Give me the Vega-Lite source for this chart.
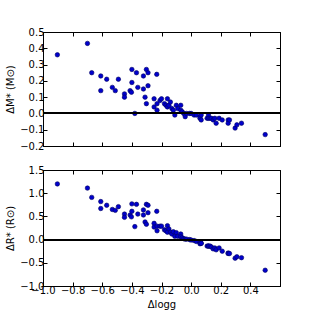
{
  "$schema": "https://vega.github.io/schema/vega-lite/v6.json",
  "padding": {"top": 26, "left": 5, "right": 5, "bottom": 5},
  "background": "white",
  "config": {
    "view": {"stroke": "black", "strokeWidth": 1},
    "font": "DejaVu Sans",
    "axis": {
      "grid": false, "domainColor": "black", "tickColor": "black", "tickSize": -4,
      "labelFontSize": 10, "titleFontSize": 10, "labelColor": "black", "titleColor": "black",
      "titleFontWeight": "normal", "labelPadding": 3, "labelFont": "DejaVu Sans", "titleFont": "DejaVu Sans",
      "labelOverlap": false, "labelFlush": false
    },
    "concat": {"spacing": 12}
  },
  "datasets": {
    "stars": [
      {"dlogg": -0.903, "dM": 0.36, "dR": 1.20},
      {"dlogg": -0.70, "dM": 0.43, "dR": 1.11},
      {"dlogg": -0.671, "dM": 0.25, "dR": 0.91},
      {"dlogg": -0.61, "dM": 0.23, "dR": 0.82},
      {"dlogg": -0.61, "dM": 0.14, "dR": 0.67},
      {"dlogg": -0.57, "dM": 0.21, "dR": 0.74},
      {"dlogg": -0.532, "dM": 0.16, "dR": 0.65},
      {"dlogg": -0.512, "dM": 0.14, "dR": 0.63},
      {"dlogg": -0.491, "dM": 0.21, "dR": 0.71},
      {"dlogg": -0.45, "dM": 0.12, "dR": 0.55},
      {"dlogg": -0.45, "dM": 0.10, "dR": 0.48},
      {"dlogg": -0.412, "dM": 0.14, "dR": 0.53},
      {"dlogg": -0.403, "dM": 0.13, "dR": 0.49},
      {"dlogg": -0.40, "dM": 0.27, "dR": 0.77},
      {"dlogg": -0.40, "dM": 0.19, "dR": 0.61},
      {"dlogg": -0.38, "dM": 0.00, "dR": 0.28},
      {"dlogg": -0.369, "dM": 0.25, "dR": 0.76},
      {"dlogg": -0.36, "dM": 0.16, "dR": 0.55},
      {"dlogg": -0.322, "dM": 0.23, "dR": 0.64},
      {"dlogg": -0.322, "dM": 0.15, "dR": 0.53},
      {"dlogg": -0.311, "dM": 0.10, "dR": 0.38},
      {"dlogg": -0.302, "dM": 0.27, "dR": 0.76},
      {"dlogg": -0.302, "dM": 0.06, "dR": 0.33},
      {"dlogg": -0.291, "dM": 0.25, "dR": 0.74},
      {"dlogg": -0.291, "dM": 0.17, "dR": 0.58},
      {"dlogg": -0.232, "dM": 0.24, "dR": 0.61},
      {"dlogg": -0.25, "dM": 0.09, "dR": 0.35},
      {"dlogg": -0.25, "dM": 0.04, "dR": 0.27},
      {"dlogg": -0.23, "dM": 0.06, "dR": 0.29},
      {"dlogg": -0.23, "dM": 0.02, "dR": 0.19},
      {"dlogg": -0.21, "dM": 0.08, "dR": 0.29},
      {"dlogg": -0.20, "dM": 0.09, "dR": 0.29},
      {"dlogg": -0.18, "dM": 0.06, "dR": 0.21},
      {"dlogg": -0.17, "dM": 0.05, "dR": 0.19},
      {"dlogg": -0.16, "dM": 0.09, "dR": 0.30},
      {"dlogg": -0.16, "dM": 0.04, "dR": 0.16},
      {"dlogg": -0.15, "dM": 0.05, "dR": 0.23},
      {"dlogg": -0.14, "dM": 0.07, "dR": 0.16},
      {"dlogg": -0.13, "dM": 0.03, "dR": 0.12},
      {"dlogg": -0.12, "dM": 0.02, "dR": 0.17},
      {"dlogg": -0.11, "dM": -0.01, "dR": 0.07},
      {"dlogg": -0.10, "dM": 0.05, "dR": 0.15},
      {"dlogg": -0.09, "dM": 0.03, "dR": 0.07},
      {"dlogg": -0.07, "dM": 0.05, "dR": 0.12},
      {"dlogg": -0.07, "dM": 0.02, "dR": 0.06},
      {"dlogg": -0.06, "dM": 0.01, "dR": 0.04},
      {"dlogg": -0.05, "dM": 0.00, "dR": 0.02},
      {"dlogg": -0.04, "dM": -0.02, "dR": 0.01},
      {"dlogg": -0.03, "dM": 0.00, "dR": 0.01},
      {"dlogg": -0.01, "dM": 0.00, "dR": 0.00},
      {"dlogg": 0.00, "dM": 0.00, "dR": -0.01},
      {"dlogg": 0.02, "dM": -0.01, "dR": -0.02},
      {"dlogg": 0.035, "dM": -0.01, "dR": -0.04},
      {"dlogg": 0.06, "dM": -0.02, "dR": -0.07},
      {"dlogg": 0.06, "dM": -0.03, "dR": -0.09},
      {"dlogg": 0.068, "dM": -0.04, "dR": -0.08},
      {"dlogg": 0.068, "dM": -0.01, "dR": -0.08},
      {"dlogg": 0.108, "dM": -0.03, "dR": -0.14},
      {"dlogg": 0.117, "dM": -0.01, "dR": -0.14},
      {"dlogg": 0.117, "dM": -0.03, "dR": -0.14},
      {"dlogg": 0.128, "dM": -0.03, "dR": -0.14},
      {"dlogg": 0.137, "dM": -0.03, "dR": -0.16},
      {"dlogg": 0.149, "dM": -0.04, "dR": -0.20},
      {"dlogg": 0.16, "dM": -0.03, "dR": -0.18},
      {"dlogg": 0.169, "dM": -0.06, "dR": -0.22},
      {"dlogg": 0.189, "dM": -0.03, "dR": -0.18},
      {"dlogg": 0.21, "dM": -0.04, "dR": -0.25},
      {"dlogg": 0.25, "dM": -0.04, "dR": -0.29},
      {"dlogg": 0.25, "dM": -0.06, "dR": -0.30},
      {"dlogg": 0.259, "dM": -0.04, "dR": -0.30},
      {"dlogg": 0.297, "dM": -0.09, "dR": -0.40},
      {"dlogg": 0.309, "dM": -0.07, "dR": -0.37},
      {"dlogg": 0.34, "dM": -0.06, "dR": -0.39},
      {"dlogg": 0.50, "dM": -0.13, "dR": -0.66}
    ]
  },
  "vconcat": [
    {
      "width": 237, "height": 114,
      "data": {"name": "stars"},
      "resolve": {"scale": {"x": "independent", "y": "independent"}},
      "layer": [
        {
          "mark": {"type": "circle", "size": 20, "color": "#0000cc", "opacity": 1, "stroke": "#000060", "strokeWidth": 0.6},
          "encoding": {
            "x": {"field": "dlogg", "type": "quantitative", "scale": {"domain": [-1.0, 0.6], "nice": false},
                  "axis": {"values": [-1.0, -0.8, -0.6, -0.4, -0.2, 0.0, 0.2, 0.4], "labels": false, "title": null}},
            "y": {"field": "dM", "type": "quantitative", "scale": {"domain": [-0.2, 0.5], "nice": false},
                  "axis": {"tickCount": 8, "format": ".1f", "title": "ΔM* (M⊙)"}}
          }
        },
        {
          "mark": {"type": "rule", "color": "black", "strokeWidth": 1},
          "encoding": {"y": {"datum": 0, "type": "quantitative", "scale": {"domain": [-0.2, 0.5], "nice": false}, "axis": null}}
        },
        {
          "mark": {"type": "circle", "size": 20, "opacity": 0},
          "encoding": {
            "x": {"field": "dlogg", "type": "quantitative", "scale": {"domain": [-1.0, 0.6], "nice": false},
                  "axis": {"orient": "top", "values": [-1.0, -0.8, -0.6, -0.4, -0.2, 0.0, 0.2, 0.4], "labels": false, "title": null}},
            "y": {"field": "dM", "type": "quantitative", "scale": {"domain": [-0.2, 0.5], "nice": false},
                  "axis": {"orient": "right", "tickCount": 8, "labels": false, "title": null}}
          }
        }
      ]
    },
    {
      "width": 237, "height": 116,
      "data": {"name": "stars"},
      "resolve": {"scale": {"x": "independent", "y": "independent"}},
      "layer": [
        {
          "mark": {"type": "circle", "size": 20, "color": "#0000cc", "opacity": 1, "stroke": "#000060", "strokeWidth": 0.6},
          "encoding": {
            "x": {"field": "dlogg", "type": "quantitative", "scale": {"domain": [-1.0, 0.6], "nice": false},
                  "axis": {"values": [-1.0, -0.8, -0.6, -0.4, -0.2, 0.0, 0.2, 0.4], "format": ".1f", "title": "Δlogg"}},
            "y": {"field": "dR", "type": "quantitative", "scale": {"domain": [-1.0, 1.5], "nice": false},
                  "axis": {"tickCount": 5, "format": ".1f", "title": "ΔR* (R⊙)"}}
          }
        },
        {
          "mark": {"type": "rule", "color": "black", "strokeWidth": 1},
          "encoding": {"y": {"datum": 0, "type": "quantitative", "scale": {"domain": [-1.0, 1.5], "nice": false}, "axis": null}}
        },
        {
          "mark": {"type": "circle", "size": 20, "opacity": 0},
          "encoding": {
            "x": {"field": "dlogg", "type": "quantitative", "scale": {"domain": [-1.0, 0.6], "nice": false},
                  "axis": {"orient": "top", "values": [-1.0, -0.8, -0.6, -0.4, -0.2, 0.0, 0.2, 0.4], "labels": false, "title": null}},
            "y": {"field": "dR", "type": "quantitative", "scale": {"domain": [-1.0, 1.5], "nice": false},
                  "axis": {"orient": "right", "tickCount": 5, "labels": false, "title": null}}
          }
        }
      ]
    }
  ]
}
